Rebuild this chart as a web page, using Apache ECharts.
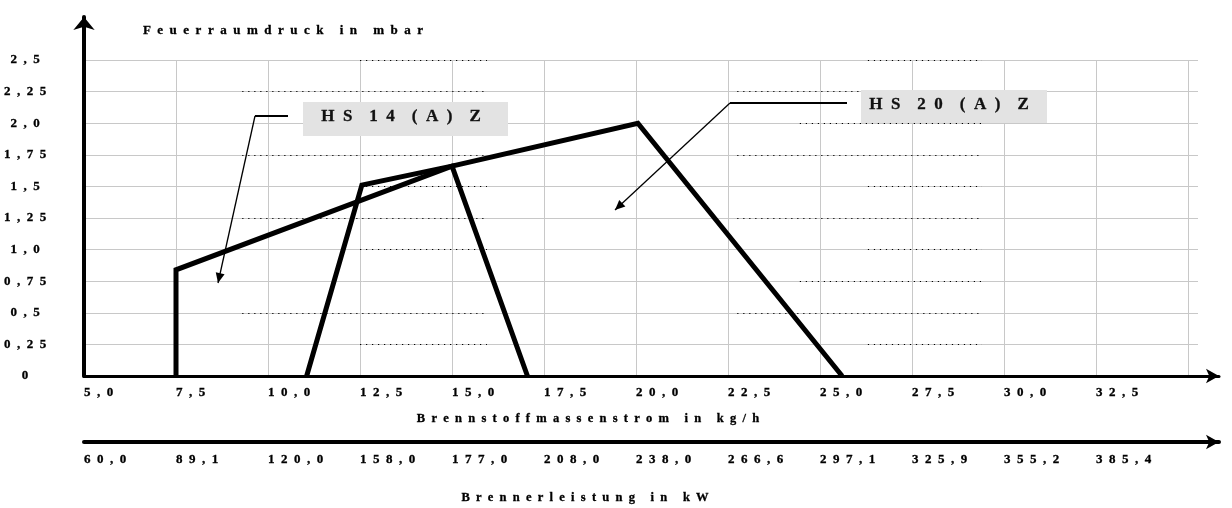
<!DOCTYPE html>
<html>
<head>
<meta charset="utf-8">
<script src="https://cdn.jsdelivr.net/npm/echarts@6/dist/echarts.min.js"></script>
<style>
  html, body { margin: 0; padding: 0; background: #ffffff; }
  #chart { width: 1232px; height: 508px; }
</style>
</head>
<body>
<div id="chart"></div>
<script>
// ---------------- data ----------------
const massTicks = ['5,0','7,5','10,0','12,5','15,0','17,5','20,0','22,5','25,0','27,5','30,0','32,5'];
const powerTicks = ['60,0','89,1','120,0','158,0','177,0','208,0','238,0','266,6','297,1','325,9','355,2','385,4'];
const pressureTicks = ['0','0,25','0,5','0,75','1,0','1,25','1,5','1,75','2,0','2,25','2,5'];

// HS 20 (A)Z working field (Brennstoffmassenstrom kg/h, Feuerraumdruck mbar)
const hs20Mass = [7.5, 7.5, 15.0, 20.05, 25.6];
const hs20Pressure = [0, 0.84, 1.66, 2.0, 0];
// HS 14 (A)Z working field
const hs14Mass = [11.05, 12.55, 15.0, 17.05];
const hs14Pressure = [0, 1.51, 1.66, 0];

const yTitle = 'Feuerraumdruck in mbar';
const xTitle = 'Brennstoffmassenstrom in kg/h';
const x2Title = 'Brennerleistung in kW';
const label14 = 'HS 14 (A) Z';
const label20 = 'HS 20 (A) Z';

// --------------- styling helpers ---------------
const FONT = '"Liberation Serif", "Times New Roman", serif';
function spread(s, n) { return s.split('').join(' '.repeat(n)); }
function spreadWords(s, n, w) { return s.split(' ').map(x => spread(x, n)).join(' '.repeat(w)); }

const MASS_MIN = 5, MASS_STEP = 2.5;
function tickFmt(list, min, step) {
  return function (v) {
    const i = Math.round((v - min) / step);
    if (Math.abs(v - (min + i * step)) > 1e-6 || i < 0 || i >= list.length) return '';
    return spread(list[i], 2);
  };
}

// dotted overlays on some grid lines (scan artefacts in the original)
const dotSpans = [
  { rows: [2.5, 1.5, 1.0, 0.25], spans: [[12.5, 15.95], [26.3, 29.4]] },
  { rows: [2.25, 1.75, 1.25, 0.5], spans: [[9.3, 15.95], [22.75, 29.4]] },
  { rows: [2.0, 0.75], spans: [[24.45, 29.4]] }
];
const dotLines = [];
dotSpans.forEach(g => g.rows.forEach(r => g.spans.forEach(s => {
  dotLines.push([{ coord: [s[0], r] }, { coord: [s[1], r] }]);
})));

function arrowHead(from, tip, len, half) {
  const dx = tip[0] - from[0], dy = tip[1] - from[1];
  const L = Math.sqrt(dx * dx + dy * dy);
  const ux = dx / L, uy = dy / L;
  const bx = tip[0] - ux * len, by = tip[1] - uy * len;
  return [[tip[0], tip[1]], [bx - uy * half, by + ux * half], [bx + uy * half, by - ux * half]];
}

const chart = echarts.init(document.getElementById('chart'), null, { renderer: 'canvas' });

const labelStyle = { fontFamily: FONT, fontWeight: 'bold', fontSize: 13, color: '#000',
  textBorderColor: '#000', textBorderWidth: 0.3 };
const gridGray = '#c8c8c8';
const titleStyle = { fill: '#000', fontFamily: FONT, fontWeight: 'bold', align: 'center',
  verticalAlign: 'middle', stroke: '#000', lineWidth: 0.3 };

const lead14 = [[288, 116], [255, 116], [218, 283]];
const lead20 = [[847, 103], [730, 103], [615, 210]];

const option = {
  animation: false,
  backgroundColor: '#ffffff',
  grid: [
    { left: 84, right: 34, top: 60, bottom: 132 },
    { left: 84, right: 13, top: 17, bottom: 132 },
    { left: 84, right: 13, top: 400, bottom: 66 }
  ],
  xAxis: [
    { gridIndex: 0, type: 'value', min: 5, max: 35.27, interval: 2.5,
      axisLine: { show: false }, axisTick: { show: false }, axisLabel: { show: false },
      splitLine: { show: true, showMaxLine: false, lineStyle: { color: gridGray, width: 1 } } },
    { gridIndex: 1, type: 'value', min: 5, max: 35.84, interval: 2.5,
      axisLine: { show: true, onZero: false, symbol: ['none', 'arrow'], symbolSize: [11, 13],
        lineStyle: { color: '#000', width: 3 } },
      axisTick: { show: false }, splitLine: { show: false },
      axisLabel: Object.assign({ align: 'left', margin: 10, formatter: tickFmt(massTicks, MASS_MIN, MASS_STEP) }, labelStyle) },
    { gridIndex: 2, type: 'value', min: 5, max: 35.84, interval: 2.5,
      axisLine: { show: true, onZero: false, symbol: ['none', 'arrow'], symbolSize: [11, 13],
        lineStyle: { color: '#000', width: 4 } },
      axisTick: { show: false }, splitLine: { show: false },
      axisLabel: Object.assign({ align: 'left', margin: 11, formatter: tickFmt(powerTicks, MASS_MIN, MASS_STEP) }, labelStyle) }
  ],
  yAxis: [
    { gridIndex: 0, type: 'value', min: 0, max: 2.5, interval: 0.25,
      axisLine: { show: false }, axisTick: { show: false }, axisLabel: { show: false },
      splitLine: { show: true, showMinLine: false, lineStyle: { color: gridGray, width: 1 } } },
    { gridIndex: 1, type: 'value', min: 0, max: 2.84, interval: 0.25,
      axisLine: { show: true, onZero: false, symbol: ['none', 'arrow'], symbolSize: [16, 13],
        lineStyle: { color: '#000', width: 4 } },
      axisTick: { show: false }, splitLine: { show: false },
      axisLabel: Object.assign({ align: 'center', margin: 59, padding: [0, 0, 5, 0], formatter: tickFmt(pressureTicks, 0, 0.25) }, labelStyle) },
    { gridIndex: 2, type: 'value', min: 0, max: 1, show: false }
  ],
  series: [
    { type: 'line', name: label20, xAxisIndex: 0, yAxisIndex: 0, symbol: 'none', clip: false,
      data: hs20Mass.map((x, i) => [x, hs20Pressure[i]]),
      lineStyle: { color: '#000', width: 5, join: 'miter' }, z: 5 },
    { type: 'line', name: label14, xAxisIndex: 0, yAxisIndex: 0, symbol: 'none', clip: false,
      data: hs14Mass.map((x, i) => [x, hs14Pressure[i]]),
      lineStyle: { color: '#000', width: 5, join: 'miter' }, z: 5 },
    { type: 'line', name: 'grid-dots', xAxisIndex: 0, yAxisIndex: 0, data: [], symbol: 'none',
      markLine: { silent: true, symbol: ['none', 'none'], label: { show: false },
        lineStyle: { color: '#000', width: 1.2, type: [1.2, 4.8] },
        emphasis: { disabled: true }, data: dotLines } }
  ],
  graphic: [
    { type: 'text', x: 283, y: 31, z: 20, style: Object.assign({ text: spreadWords(yTitle, 2, 5), fontSize: 13 }, titleStyle) },
    { type: 'text', x: 588, y: 419, z: 20, style: Object.assign({ text: spreadWords(xTitle, 2, 5), fontSize: 12.5 }, titleStyle) },
    { type: 'text', x: 585, y: 498, z: 20, style: Object.assign({ text: spreadWords(x2Title, 2, 5), fontSize: 12.5 }, titleStyle) },
    { type: 'rect', z: 20, shape: { x: 303, y: 102, width: 205, height: 34 }, style: { fill: '#e3e3e3' } },
    { type: 'text', x: 401, y: 117, z: 21, style: Object.assign({ text: spreadWords(label14, 2, 4), fontSize: 17 }, titleStyle, { fill: '#111', stroke: '#111' }) },
    { type: 'rect', z: 20, shape: { x: 861, y: 90, width: 186, height: 33 }, style: { fill: '#e3e3e3' } },
    { type: 'text', x: 949, y: 105, z: 21, style: Object.assign({ text: spreadWords(label20, 2, 4), fontSize: 17 }, titleStyle, { fill: '#111', stroke: '#111' }) },
    { type: 'polyline', z: 22, shape: { points: [lead14[0], lead14[1]] }, style: { stroke: '#000', lineWidth: 2, fill: null } },
    { type: 'polyline', z: 22, shape: { points: [lead14[1], lead14[2]] }, style: { stroke: '#000', lineWidth: 1.3, fill: null } },
    { type: 'polygon', z: 22, shape: { points: arrowHead(lead14[1], lead14[2], 10, 4.5) }, style: { fill: '#000' } },
    { type: 'polyline', z: 22, shape: { points: [lead20[0], lead20[1]] }, style: { stroke: '#000', lineWidth: 2, fill: null } },
    { type: 'polyline', z: 22, shape: { points: [lead20[1], lead20[2]] }, style: { stroke: '#000', lineWidth: 1.3, fill: null } },
    { type: 'polygon', z: 22, shape: { points: arrowHead(lead20[1], lead20[2], 10, 4.5) }, style: { fill: '#000' } }
  ]
};
chart.setOption(option);
</script>
</body>
</html>
